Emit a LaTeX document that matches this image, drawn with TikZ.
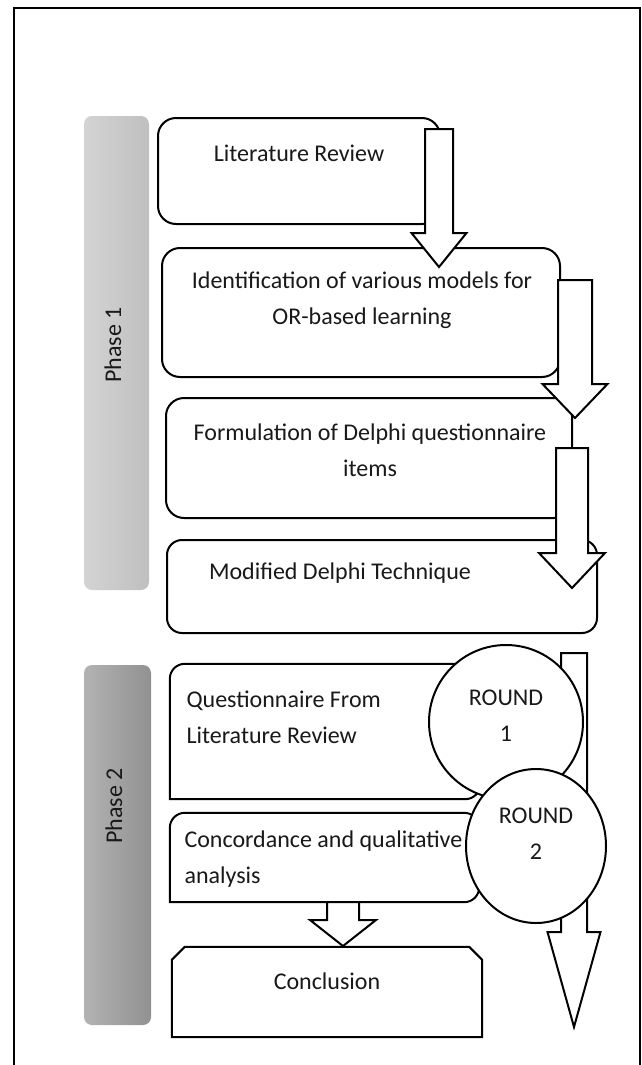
\documentclass[tikz,border=0pt]{standalone}
\usepackage{fontspec}
\setmainfont{Carlito}
\usetikzlibrary{calc,shapes.geometric}

% hollow block arrow: start, tip, shaft half width, head half width, head length
\newcommand{\fatarrow}[5]{%
  \draw[arrowline] ($(#1)+(-#3,0)$) -- ($(#2)+(-#3,-#5)$) -- ($(#2)+(-#4,-#5)$)
    -- (#2) -- ($(#2)+(#4,-#5)$) -- ($(#2)+(#3,-#5)$) -- ($(#1)+(#3,0)$) -- cycle;}

% outline with a square lower left corner
\newcommand{\diagbox}[1]{%
  \draw[boxline, fill=white] (#1.south west) -- ([yshift=-15pt]#1.north west) arc(180:90:15pt)
    -- ([xshift=-15pt]#1.north east) arc(90:0:15pt)
    -- ([yshift=15pt]#1.south east) arc(0:-90:15pt) -- cycle;}

\begin{document}
\begin{tikzpicture}[x=1pt, y=-1pt,
    every node/.style={font=\fontsize{24}{36}\selectfont, text=black!90},
    boxline/.style={draw=black, line width=2pt},
    box/.style={boxline, fill=white, rounded corners=18pt},
    arrowline/.style={boxline, fill=white, line join=miter},
    phasebar/.style={rounded corners=8pt, inner sep=0pt},
    round/.style={boxline, fill=white, align=center, inner sep=0pt}]
    \useasboundingbox (0,0) rectangle (642,1065);

    % frame
    \draw[line width=2pt] (14,1065) -- (14,8) -- (640,8) -- (640,1065);

    % phases
    \node[phasebar, left color=black!17, right color=black!25,
          minimum width=65pt, minimum height=474pt] (ph1) at (116.5,353) {};
    \node[phasebar, left color=black!30, right color=black!43,
          minimum width=67pt, minimum height=360pt] (ph2) at (117.5,845) {};
    \node[rotate=90] (ph1t) at (113,345) {Phase 1};
    \node[rotate=90] (ph2t) at (114,806) {Phase 2};

    % phase 1 boxes
    \node[box, minimum width=282pt, minimum height=106pt] (lit) at (299,171) {};
    \node[box, minimum width=398pt, minimum height=129pt] (ident) at (361,312.5) {};
    \node[box, minimum width=406pt, minimum height=120pt] (form) at (369,458) {};
    \node[box, rounded corners=15pt, minimum width=430pt, minimum height=93pt] (mod) at (382,586.5) {};

    \node (litt) at (299,153) {Literature Review};
    \node[align=center] (identt) at (362,300) {Identification of various models for\\OR-based learning};
    \node[align=center] (formt) at (370,450) {Formulation of Delphi questionnaire\\items};
    \node (modt) at (340,573) {Modified Delphi Technique};

    \coordinate (a1s) at (439,129);  \coordinate (a1t) at (439,267);
    \coordinate (a2s) at (575,280);  \coordinate (a2t) at (575,418);
    \coordinate (a3s) at (572,448);  \coordinate (a3t) at (572,588);
    \foreach \s/\t/\w/\h/\l in {a1s/a1t/14/27.5/34, a2s/a2t/17/32.5/34, a3s/a3t/16/33/35}
        \fatarrow{\s}{\t}{\w}{\h}{\l};

    % phase 2
    \coordinate (a4s) at (574,653);  \coordinate (a4t) at (574,1027);
    \fatarrow{a4s}{a4t}{13}{26.5}{95}

    \node[minimum width=310pt, minimum height=135pt, inner sep=0pt] (quest) at (325,731.5) {};
    \diagbox{quest}
    \node[minimum width=309pt, minimum height=89pt, inner sep=0pt] (conc) at (324.5,857.5) {};
    \diagbox{conc}
    \node[minimum width=310pt, minimum height=90pt, inner sep=0pt] (concl) at (327,992) {};
    \draw[boxline, fill=white] (concl.south west) -- ([yshift=-13pt]concl.north west)
        -- ([xshift=13pt]concl.north west) -- ([xshift=-13pt]concl.north east)
        -- ([yshift=-13pt]concl.north east) -- (concl.south east) -- cycle;

    \node[align=left, anchor=west] (questt) at (183,717.5) {Questionnaire From\\Literature Review};
    \node[align=left, anchor=west] (conct) at (181,859) {Concordance and qualitative\\analysis};
    \node (conclt) at (327,981) {Conclusion};

    \coordinate (a5s) at (343,902);  \coordinate (a5t) at (343,946);
    \fatarrow{a5s}{a5t}{16}{33}{26}

    \node[round, circle, minimum size=154pt] (r1) at (506,722) {};
    \node[align=center] (r1t) at (506,716) {ROUND\\1};
    \node[round, ellipse, minimum width=140pt, minimum height=154pt] (r2) at (536,846) {};
    \node[align=center] (r2t) at (536,834) {ROUND\\2};
\end{tikzpicture}
\end{document}
